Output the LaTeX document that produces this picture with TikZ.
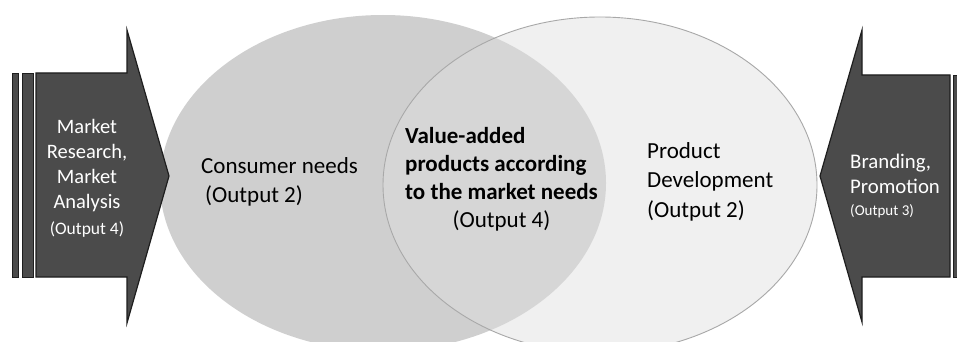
\documentclass[tikz,border=0pt]{standalone}
\usepackage{fontspec}
\setmainfont{Carlito}
\newcommand\myfs[2]{\fontsize{#1}{#2}\selectfont}
\definecolor{arrowfill}{HTML}{4B4B4B}
\definecolor{arrowedge}{HTML}{1E1E1E}
\definecolor{leftfill}{HTML}{CFCFCF}
\definecolor{midfill}{HTML}{D6D6D6}
\definecolor{rightfill}{HTML}{F0F0F0}
\definecolor{rightedge}{HTML}{A8A8A8}
\tikzset{
  bigarrow/.style={fill=arrowfill, draw=arrowedge, line width=1.2pt, line join=miter},
  stripe/.style={fill=arrowfill, draw=arrowedge, line width=0.8pt},
  arrowtext/.style={text=white, inner sep=0pt},
  circtext/.style={text=black, inner sep=0pt},
}
\begin{document}
\begin{tikzpicture}[x=1pt,y=-1pt]
\useasboundingbox (0,0) rectangle (957,342);
\fill[white] (0,0) rectangle (957,342);
\begin{scope}
\clip (0,0) rectangle (957,342);
% ellipses
\fill[leftfill] (383,183) ellipse [x radius=223pt, y radius=168pt];
\fill[rightfill] (600,185) ellipse [x radius=217pt, y radius=168pt];
\begin{scope}
  \clip (383,183) ellipse [x radius=223pt, y radius=168pt];
  \fill[midfill] (600,185) ellipse [x radius=217pt, y radius=168pt];
\end{scope}
\draw[rightedge, line width=0.9pt] (600,185) ellipse [x radius=217pt, y radius=168pt];
% left arrow
\draw[stripe] (12,73) rectangle (18,277);
\draw[stripe] (22,73) rectangle (33,277);
\draw[bigarrow] (36,73) -- (127,73) -- (127,30) -- (169,176) -- (127,323) -- (127,277) -- (36,277) -- cycle;
% right arrow
\draw[bigarrow] (950,75) -- (862,75) -- (862,30) -- (820,176) -- (862,322) -- (862,277) -- (950,277) -- cycle;
\draw[stripe] (953,75) rectangle (960,277);
\end{scope}
% texts
\node[arrowtext, anchor=base] (lefttxt) at (87,133) {\myfs{20.5}{25}\begin{tabular}[t]{@{}c@{}}Market\\Research,\\Market\\Analysis\\[1pt]{\myfs{17.5}{21}(Output 4)}\end{tabular}};
\node[arrowtext, anchor=base west] (righttxt) at (850,168) {\myfs{20.8}{25}\begin{tabular}[t]{@{}l@{}}Branding,\\Promotion\\[-3pt]{\myfs{15}{18}(Output 3)}\end{tabular}};
\node[circtext, anchor=base west] (consumer) at (201,173) {\myfs{23}{29}\begin{tabular}[t]{@{}l@{}}Consumer needs\\\hspace{4pt}(Output 2)\end{tabular}};
\node[circtext, anchor=base west] (product) at (647,158) {\myfs{23}{29.5}\begin{tabular}[t]{@{}l@{}}Product\\Development\\(Output 2)\end{tabular}};
\node[circtext, anchor=base west] (value) at (405,143) {\myfs{23}{28}\begin{tabular}[t]{@{}l@{}}\textbf{Value-added}\\\textbf{products according}\\\textbf{to the market needs}\\\multicolumn{1}{@{}c@{}}{(Output 4)}\end{tabular}};
\end{tikzpicture}
\end{document}
